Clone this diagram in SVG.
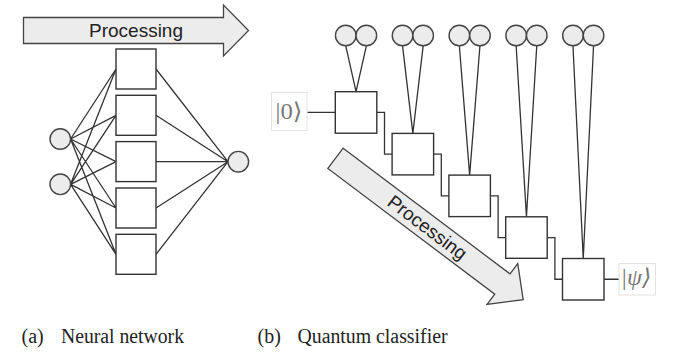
<svg xmlns="http://www.w3.org/2000/svg" width="684" height="363" viewBox="0 0 684 363">
<style>
.ln{stroke:#333;stroke-width:1.3;fill:none}
.bx{fill:#fff;stroke:#333;stroke-width:1.4}
.cc{fill:#ececec;stroke:#444;stroke-width:1.4}
.ar{fill:#ececec;stroke:#444;stroke-width:1.3;stroke-linejoin:miter}
.at{font-family:"Liberation Sans",Arial,sans-serif;font-size:19px;fill:#222;text-anchor:middle}
.ket{font-family:"Liberation Serif","DejaVu Serif",serif;font-size:23px;fill:#777}
.cap{font-family:"Liberation Serif","Times New Roman",serif;font-size:20px;fill:#222}
.kb{fill:none;stroke:#e2e2e2;stroke-width:1}
</style>
<defs>
<path id="arrowL" d="M0,-13 H200 V-25.5 L225,0 L200,25.5 V13 H0 Z"/>
<path id="arrowR" d="M0,-12.7 H209 V-25.5 L235,0 L209,25.5 V12.7 H0 Z"/>
</defs>

<!-- Panel (a) -->
<g id="nn-arrow">
<use href="#arrowL" class="ar" transform="translate(23.5,30.5)"/>
<text class="at" x="136" y="37">Processing</text>
</g>
<g id="nn-connectors">
<path class="ln" d="M70.6,139 L116,69 M70.6,139 L116,115.3 M70.6,139 L116,161.6 M70.6,139 L116,208 M70.6,139 L116,254.3
M70.6,184.3 L116,69 M70.6,184.3 L116,115.3 M70.6,184.3 L116,161.6 M70.6,184.3 L116,208 M70.6,184.3 L116,254.3
M156,69 L228,161.7 M156,115.3 L228,161.7 M156,161.6 L228,161.7 M156,208 L228,161.7 M156,254.3 L228,161.7"/>
</g>
<g id="nn-in1"><circle class="cc" cx="60.3" cy="139" r="10.3"/></g>
<g id="nn-in2"><circle class="cc" cx="60.3" cy="184.3" r="10.3"/></g>
<g id="nn-h1"><rect class="bx" x="116" y="49" width="40" height="40"/></g>
<g id="nn-h2"><rect class="bx" x="116" y="95.3" width="40" height="40"/></g>
<g id="nn-h3"><rect class="bx" x="116" y="141.6" width="40" height="40"/></g>
<g id="nn-h4"><rect class="bx" x="116" y="188" width="40" height="40"/></g>
<g id="nn-h5"><rect class="bx" x="116" y="234.3" width="40" height="40"/></g>
<g id="nn-out"><circle class="cc" cx="238.3" cy="161.7" r="10.3"/></g>

<!-- Panel (b) -->
<g id="qc-arrow">
<g transform="translate(335.5,158.3) rotate(37)">
<use href="#arrowR" class="ar"/>
<text class="at" x="115" y="6.5">Processing</text>
</g>
</g>
<g id="qc-connectors">
<path class="ln" d="M345.75,45.8 L356.05,91.7 M366.35,45.8 L356.05,91.7
M402.55,45.8 L412.85,133.4 M423.15,45.8 L412.85,133.4
M459.35,45.8 L469.65,175.1 M479.95,45.8 L469.65,175.1
M516.15,45.8 L526.45,216.8 M536.75,45.8 L526.45,216.8
M572.95,45.8 L583.25,258.5 M593.55,45.8 L583.25,258.5"/>
<path class="ln" d="M376.8,112.45 H384.5 V154.15 H392.1
M433.6,154.15 H441.3 V195.85 H448.9
M490.4,195.85 H498.1 V237.55 H505.7
M547.2,237.55 H554.9 V279.25 H562.5"/>
<path class="ln" d="M307.3,112.45 H335.3 M604,279.25 H619"/>
</g>
<g id="qc-q1"><circle class="cc" cx="345.75" cy="35.5" r="10.3"/><circle class="cc" cx="366.35" cy="35.5" r="10.3"/></g>
<g id="qc-q2"><circle class="cc" cx="402.55" cy="35.5" r="10.3"/><circle class="cc" cx="423.15" cy="35.5" r="10.3"/></g>
<g id="qc-q3"><circle class="cc" cx="459.35" cy="35.5" r="10.3"/><circle class="cc" cx="479.95" cy="35.5" r="10.3"/></g>
<g id="qc-q4"><circle class="cc" cx="516.15" cy="35.5" r="10.3"/><circle class="cc" cx="536.75" cy="35.5" r="10.3"/></g>
<g id="qc-q5"><circle class="cc" cx="572.95" cy="35.5" r="10.3"/><circle class="cc" cx="593.55" cy="35.5" r="10.3"/></g>
<g id="qc-b1"><rect class="bx" x="335.3" y="91.7" width="41.5" height="41.5"/></g>
<g id="qc-b2"><rect class="bx" x="392.1" y="133.4" width="41.5" height="41.5"/></g>
<g id="qc-b3"><rect class="bx" x="448.9" y="175.1" width="41.5" height="41.5"/></g>
<g id="qc-b4"><rect class="bx" x="505.7" y="216.8" width="41.5" height="41.5"/></g>
<g id="qc-b5"><rect class="bx" x="562.5" y="258.5" width="41.5" height="41.5"/></g>
<g id="qc-in">
<rect class="kb" x="271.5" y="92.5" width="35.5" height="38"/>
<text class="ket" x="275.5" y="119" textLength="27" lengthAdjust="spacingAndGlyphs">|0⟩</text>
</g>
<g id="qc-out">
<rect class="kb" x="619" y="263.5" width="36.5" height="31.5"/>
<text class="ket" x="620.5" y="285" font-style="italic" textLength="31" lengthAdjust="spacingAndGlyphs">|ψ⟩</text>
</g>

<!-- Captions -->
<text class="cap" x="21.5" y="343">(a)</text>
<text class="cap" x="61" y="343" textLength="123" lengthAdjust="spacingAndGlyphs">Neural network</text>
<text class="cap" x="257.5" y="343">(b)</text>
<text class="cap" x="297.5" y="343" textLength="150" lengthAdjust="spacingAndGlyphs">Quantum classifier</text>
</svg>
